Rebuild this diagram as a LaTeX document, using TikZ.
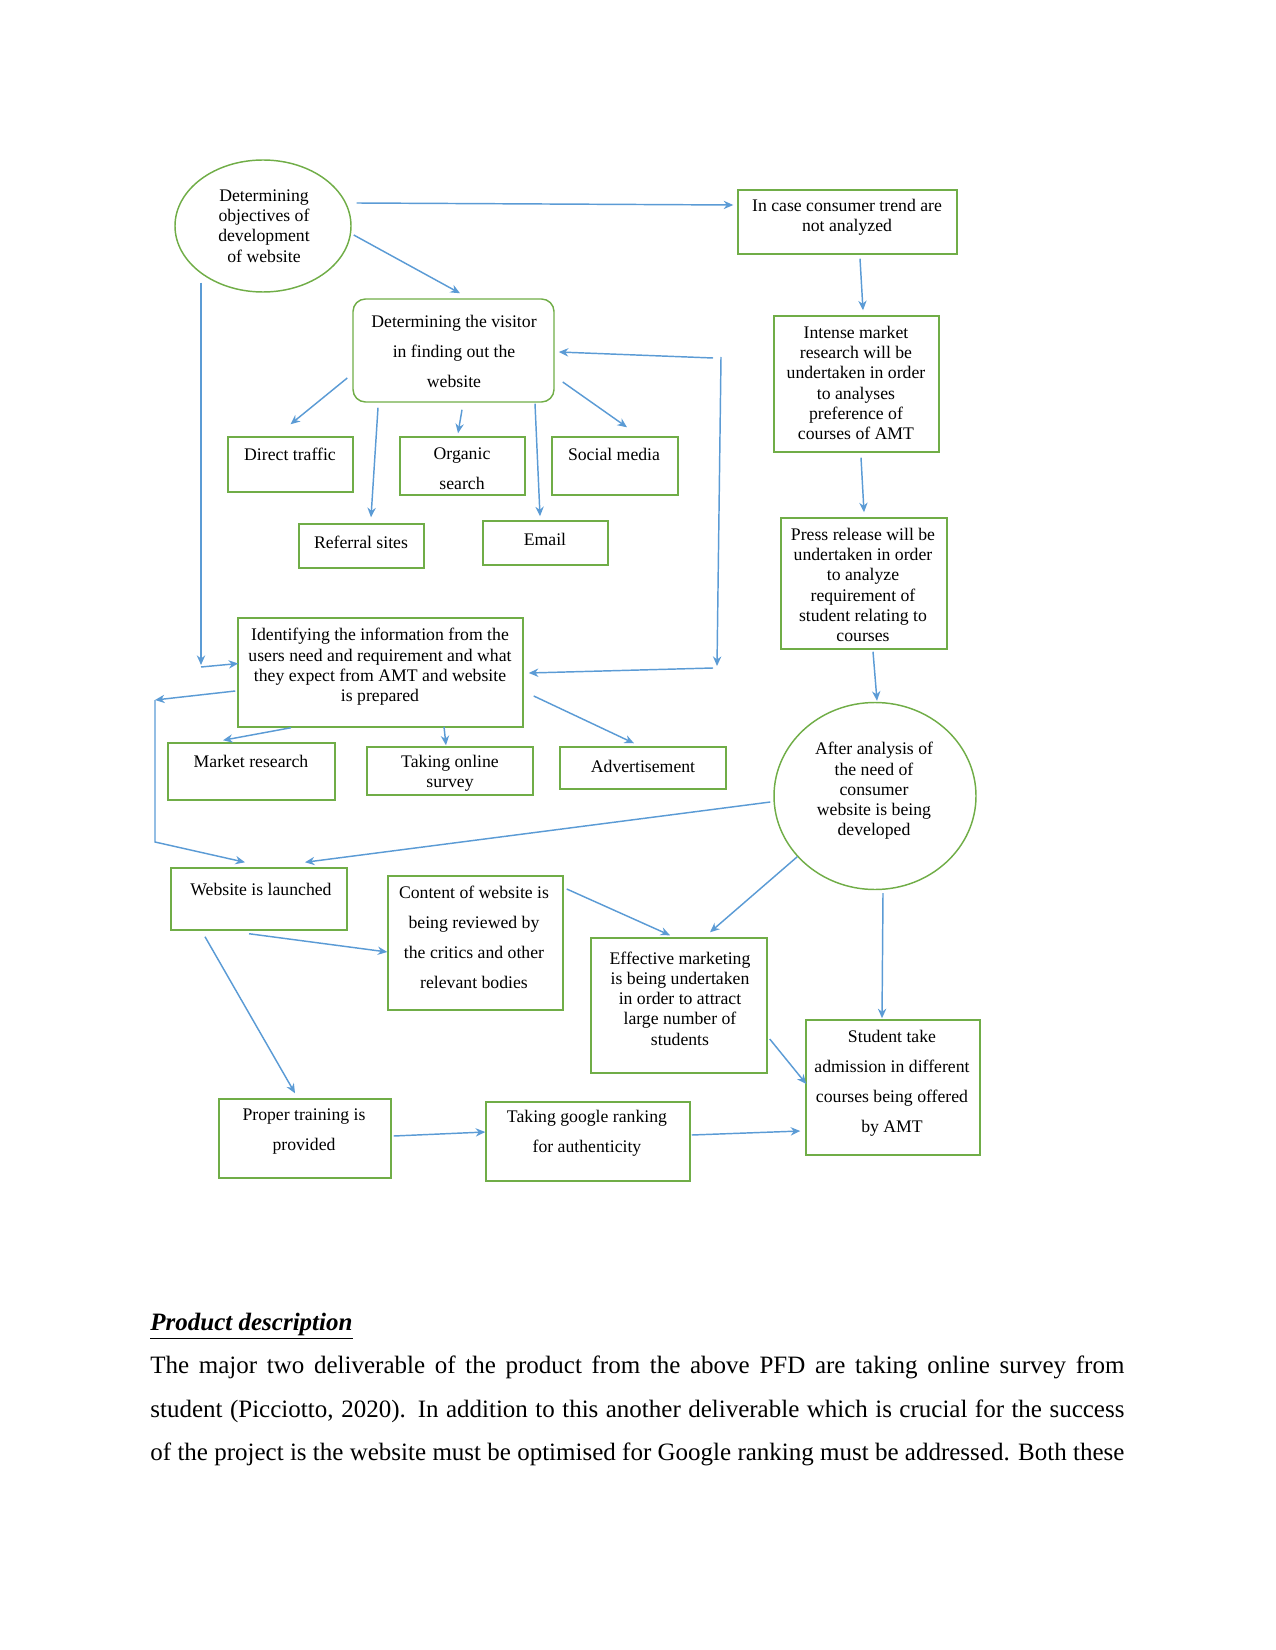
\documentclass[tikz,border=0pt]{standalone}
\usepackage{fontspec}
\setmainfont{Liberation Serif}
\usetikzlibrary{arrows.meta,calc,shapes.geometric}
\definecolor{boxgreen}{RGB}{112,173,71}
\definecolor{wireblue}{RGB}{91,155,213}
\tikzset{
  box/.style   = {draw=boxgreen, line width=0.7pt, inner sep=0pt},
  sz/.style 2 args = {minimum width=#1*0.48pt, minimum height=#2*0.48pt},
  oval/.style  = {box, ellipse},
  txt/.style   = {align=center, inner sep=0pt, font=\fontsize{8.5}{9.75}\selectfont},
  wtxt/.style  = {txt, font=\fontsize{8.5}{14.4}\selectfont},
  vec/.style   = {-{Stealth[length=4.6pt,width=4pt]}, draw=wireblue, line width=0.7pt},
  body/.style  = {anchor=base west, inner sep=0pt, font=\fontsize{12}{14}\selectfont},
}

\begin{document}
\begin{tikzpicture}[x=0.48pt,y=-0.48pt]
  \useasboundingbox (0,0) rectangle (1275,1650);
  % objectives
  \node[oval, sz={176}{132}] (obj) at (263,226) {};
  \node[txt] (objt) at (264,226) {Determining\\objectives of\\development\\of website};
  % consumer trend branch
  \node[box, sz={219}{64}] (inc) at (847.5,222) {};
  \node[txt] (inct) at (847,217) {In case consumer trend are\\not analyzed};
  \node[box, sz={165}{136}] (int) at (856.5,384) {};
  \node[txt] (intt) at (856,383) {Intense market\\research will be\\undertaken in order\\to analyses\\preference of\\courses of AMT};
  \node[box, sz={166}{131}] (prs) at (864,583.5) {};
  \node[txt] (prst) at (863,585) {Press release will be\\undertaken in order\\to analyze\\requirement of\\student relating to\\courses};
  \node[oval, sz={202}{187}] (aft) at (875,796) {};
  \node[txt] (aftt) at (874,791) {After analysis of\\the need of\\consumer\\website is being\\developed};
  % visitor
  \node[box, rounded corners=6pt, sz={201}{103}] (vis) at (453.5,350.5) {};
  \node[wtxt] (vist) at (454,351) {Determining the visitor\\in finding out the\\website};
  \node[box, sz={125}{55}] (dt) at (290.5,464.5) {};
  \node[txt] (dtt) at (290,454) {Direct traffic};
  \node[box, sz={125}{58}] (org) at (462.5,466) {};
  \node[wtxt] (orgt) at (462,468.5) {Organic\\search};
  \node[box, sz={126}{58}] (soc) at (615,466) {};
  \node[txt] (soct) at (614,454) {Social media};
  \node[box, sz={125}{44}] (ref) at (361.5,546) {};
  \node[txt] (reft) at (361,542) {Referral sites};
  \node[box, sz={125}{44}] (eml) at (545.5,543) {};
  \node[txt] (emlt) at (545,539) {Email};
  % requirements
  \node[box, sz={285}{109}] (idf) at (380.5,672.5) {};
  \node[txt] (idft) at (380,667) {Identifying the information from the\\users need and requirement and what\\they expect from AMT and website\\is prepared};
  \node[box, sz={167}{57}] (mkt) at (251.5,771.5) {};
  \node[txt] (mktt) at (251,761) {Market research};
  \node[box, sz={166}{48}] (srv) at (450,771) {};
  \node[txt] (srvt) at (450,773.5) {Taking online\\survey};
  \node[box, sz={166}{42}] (adv) at (643,768) {};
  \node[txt] (advt) at (643,766) {Advertisement};
  % launch
  \node[box, sz={176}{62}] (web) at (259,899) {};
  \node[txt] (webt) at (261,889) {Website is launched};
  \node[box, sz={175}{134}] (con) at (475.5,943) {};
  \node[wtxt] (cont) at (474,937.5) {Content of website is\\being reviewed by\\the critics and other\\relevant bodies};
  \node[box, sz={176}{135}] (eff) at (679,1005.5) {};
  \node[txt] (efft) at (680,998.5) {Effective marketing\\is being undertaken\\in order to attract\\large number of\\students};
  \node[box, sz={172}{79}] (pro) at (305,1138.5) {};
  \node[wtxt] (prot) at (304,1131.5) {Proper training is\\provided};
  \node[box, sz={204}{79}] (goo) at (588,1141.5) {};
  \node[wtxt] (goot) at (587,1133) {Taking google ranking\\for authenticity};
  \node[box, sz={174}{135}] (stu) at (893,1087.5) {};
  \node[wtxt] (stut) at (892,1083.5) {Student take\\admission in different\\courses being offered\\by AMT};

  % loops
  \coordinate (la) at (201,667);
  \coordinate (lb) at (155,700);
  \coordinate (lc) at (155,842);
  \coordinate (ra) at (721,357);
  \coordinate (rb) at (717,666);

  % arrows from objectives
  \draw[vec] ($(obj.east)+(5,-23)$) -- ($(inc.west)+(-4,-17)$);
  \draw[vec] ($(obj.east)+(2,9)$) -- ($(vis.north)+(6.5,-5)$);
  \draw[vec] ($(obj.south)+(-62,-10)$) -- ($(la)+(0,-2)$);
  \draw[vec] (la) -- ($(idf.west)+(1,-9)$);
  % right column
  \draw[vec] ($(inc.south)+(12.5,4)$) -- ($(int.north)+(6.5,-5)$);
  \draw[vec] ($(int.south)+(4.5,5)$) -- ($(prs.north)+(0,-5)$);
  \draw[vec] ($(prs.south)+(9,2)$) -- ($(aft.north)+(2,-1)$);
  \draw[vec] ($(aft.south)+(8,3)$) -- ($(stu.north)+(-11,-1)$);
  \draw[vec] (aft.218) -- ($(eff.north)+(31,-5)$);
  \draw[vec] ($(aft.west)+(-3,6)$) -- ($(web.north)+(46,-5)$);
  % visitor sources
  \draw[vec] ($(vis.west)+(-5,27.5)$) -- ($(dt.north)+(0,-12)$);
  \draw[vec] ($(vis.south)+(-75.5,5)$) -- ($(ref.north)+(9.5,-6)$);
  \draw[vec] ($(vis.south)+(8.5,7)$) -- ($(org.north)+(-4.5,-3)$);
  \draw[vec] ($(vis.south)+(81.5,1)$) -- ($(eml.north)+(-5.5,-4)$);
  \draw[vec] ($(vis.east)+(8,31.5)$) -- ($(soc.north)+(12,-9)$);
  \draw[vec] ($(ra)+(-8,1)$) -- ($(vis.east)+(4,1.5)$);
  \draw[vec] (ra) -- (rb);
  \draw[vec] ($(rb)+(-4,2)$) -- ($(idf.east)+(5,0.5)$);
  % requirements
  \draw[vec] ($(idf.south)+(-89.5,0)$) -- ($(mkt.north)+(-28.5,-2)$);
  \draw[vec] ($(idf.south)+(63.5,-1)$) -- ($(srv.north)+(-4,-1)$);
  \draw[vec] ($(idf.east)+(10,23.5)$) -- ($(adv.north)+(-9,-3)$);
  \draw[vec] ($(idf.west)+(-2,18.5)$) -- (lb);
  \draw[vec] (lb) -- (lc) -- ($(web.north)+(-14,-5)$);
  % launch
  \draw[vec] ($(web.south)+(-10,3)$) -- ($(con.west)+(0,9)$);
  \draw[vec] ($(web.south)+(-54,6)$) -- ($(pro.north)+(-10,-5)$);
  \draw[vec] ($(con.east)+(3,-54)$) -- ($(eff.north)+(-9,-2)$);
  \draw[vec] ($(eff.east)+(2,33.5)$) -- ($(stu.west)+(1,-3.5)$);
  \draw[vec] ($(pro.east)+(2,-2.5)$) -- ($(goo.west)+(0,-9.5)$);
  \draw[vec] ($(goo.east)+(1,-6.5)$) -- ($(stu.west)+(-5,43.5)$);

  % text below
  \node[body] (hd) at (150,1330) {\underline{\textbf{\textit{Product description}}}};
  \node[body] (p1) at (150,1373) {\makebox[467.5pt][s]{The major two deliverable of the product from the above PFD are taking online survey from}};
  \node[body] (p2) at (150,1417) {\makebox[467.5pt][s]{student (Picciotto, 2020). In addition to this another deliverable which is crucial for the success}};
  \node[body] (p3) at (150,1460) {\makebox[467.5pt][s]{of the project is the website must be optimised for Google ranking must be addressed. Both these}};
\end{tikzpicture}
\end{document}
